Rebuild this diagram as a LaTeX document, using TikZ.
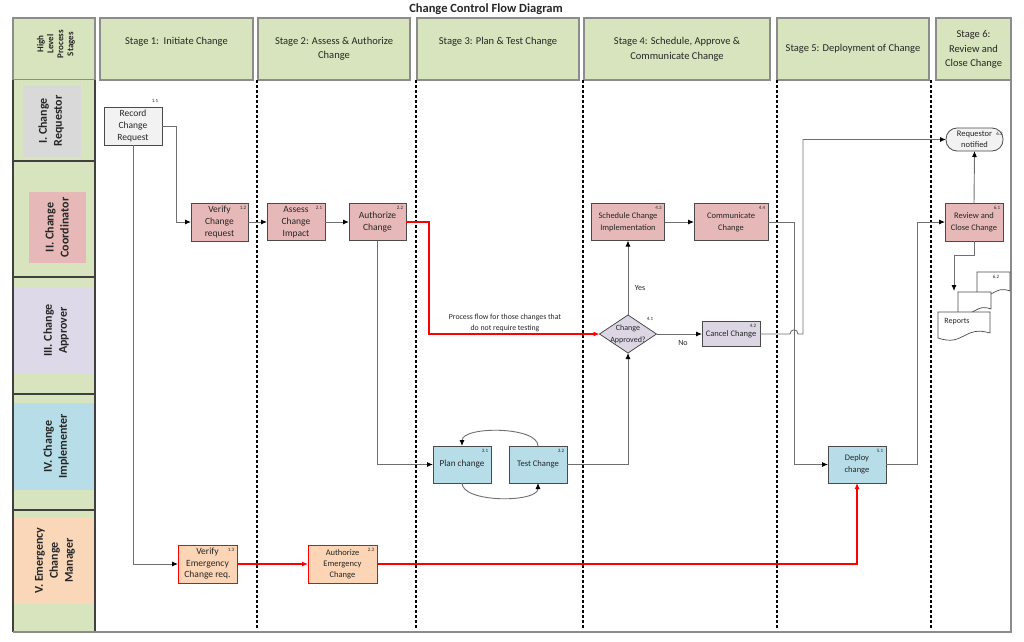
\documentclass[tikz,border=0pt]{standalone}
\usepackage{fontspec}
\setmainfont{Carlito}
\usetikzlibrary{arrows.meta,shapes.geometric}
\definecolor{hdrgreen}{HTML}{D7E4BD}
\definecolor{boxgray}{HTML}{8C8C8C}
\definecolor{nodeborder}{HTML}{4A4A4A}
\definecolor{textgray}{HTML}{262626}
\definecolor{conngray}{HTML}{6F6F6F}
\definecolor{pinkfill}{HTML}{E6B9B8}
\definecolor{bluefill}{HTML}{B7DEE8}
\definecolor{orangefill}{HTML}{FBD5B5}
\definecolor{purplefill}{HTML}{DCD6E4}
\definecolor{lightfill}{HTML}{F2F2F2}
\definecolor{lanegray}{HTML}{D9D9D9}
\definecolor{lanepink}{HTML}{E6B9B8}
\definecolor{lanepurple}{HTML}{DED9E8}
\definecolor{laneblue}{HTML}{B7DEE8}
\definecolor{laneorange}{HTML}{FAD7B9}
\definecolor{sepdark}{HTML}{404040}
\begin{document}
\begin{tikzpicture}[x=1pt,y=-1pt,
  every node/.style={inner sep=0pt, outer sep=0pt, align=center, text=textgray},
  stagebox/.style={draw=boxgray, line width=1.1pt, fill=hdrgreen},
  stagetxt/.style={font=\fontsize{10.5}{14.5}\selectfont},
  proc/.style={draw=nodeborder, line width=0.8pt, minimum width=58pt, minimum height=37pt, font=\fontsize{9.5}{12}\selectfont},
  pinkbox/.style={proc, fill=pinkfill},
  bluebox/.style={proc, fill=bluefill},
  emerg/.style={proc, fill=orangefill, draw=red, line width=1pt},
  conn/.style={draw=conngray, line width=0.9pt},
  arr/.style={conn, -{Latex[length=6pt,width=5pt,color=black]}},
  redarr/.style={draw=red, line width=1.1pt, -{Latex[length=6pt,width=5pt]}},
  num/.style={font=\fontsize{5}{6}\selectfont},
  lanetxt/.style={rotate=90, font=\bfseries\fontsize{12}{15}\selectfont},
  divider/.style={draw=black, line width=2pt, dash pattern=on 3pt off 2pt},
  sepline/.style={draw=sepdark, line width=1.1pt},
  small/.style={font=\fontsize{8}{11}\selectfont},
]
\fill[white] (0,0) rectangle (1024,641);
\useasboundingbox (0,0) rectangle (1024,641);

% title
\node[font=\bfseries\fontsize{12.5}{14}\selectfont] (title) at (486,9) {Change Control Flow Diagram};

% header row
\node[stagebox, minimum width=82pt, minimum height=62pt] (hdr) at (54,49) {};
\node[rotate=90, font=\bfseries\fontsize{9}{10}\selectfont] (hdrtxt) at (56,44) {High\\Level\\Process\\Stages};
\node[stagebox, minimum width=153pt, minimum height=62pt] (s1) at (176.5,49) {};
\node[stagebox, minimum width=152pt, minimum height=62pt] (s2) at (334,49) {};
\node[stagebox, minimum width=162pt, minimum height=62pt] (s3) at (498,49) {};
\node[stagebox, minimum width=186pt, minimum height=62pt] (s4) at (677,49) {};
\node[stagebox, minimum width=152pt, minimum height=62pt] (s5) at (853,49) {};
\node[stagebox, minimum width=75pt, minimum height=62pt] (s6) at (973.5,49) {};
\node[stagetxt] (s1t) at (176.5,42) {Stage 1:\ \ Initiate Change};
\node[stagetxt] (s2t) at (334,49) {Stage 2: Assess \& Authorize\\Change};
\node[stagetxt] (s3t) at (498,42) {Stage 3: Plan \& Test Change};
\node[stagetxt] (s4t) at (677,49.5) {Stage 4: Schedule, Approve \&\\Communicate Change};
\node[stagetxt] (s5t) at (853,49) {Stage 5: Deployment of Change};
\node[stagetxt] (s6t) at (973.5,49.5) {Stage 6:\\Review and\\Close Change};

% lane column
\fill[hdrgreen] (13,80) rectangle (95,632);
\fill[lanegray] (23,85) rectangle (81,157);
\fill[lanepink] (29,192) rectangle (86,263);
\fill[lanepurple] (13,287) rectangle (95,374);
\fill[laneblue] (13,403) rectangle (95,490);
\fill[laneorange] (13,517) rectangle (95,604);
\draw[sepline] (13,161) -- (95,161);
\draw[sepline] (13,277) -- (95,277);
\draw[sepline] (13,394) -- (95,394);
\draw[sepline] (13,510) -- (95,510);
\draw[sepline] (13,80) -- (13,632);
\draw[sepline] (95,80) -- (95,632);
\draw[draw=boxgray, line width=1.1pt] (13,632) -- (1011,632) -- (1011,80);
\node[lanetxt] (l1) at (51,121) {I. Change\\Requestor};
\node[lanetxt] (l2) at (57,227.5) {II. Change\\Coordinator};
\node[lanetxt] (l3) at (56,330.5) {III. Change\\Approver};
\node[lanetxt] (l4) at (56,446.5) {IV. Change\\Implementer};
\node[lanetxt] (l5) at (55,560.5) {V. Emergency\\Change\\Manager};

% stage dividers
\foreach \xx in {257,416,583,777,931} \draw[divider] (\xx,80) -- (\xx,628);

% process nodes
\node[proc, fill=lightfill, minimum height=38pt] (rec) at (133,126) {Record\\Change\\Request};
\node[pinkbox, minimum width=57pt, minimum height=38pt] (ver) at (219.5,222) {Verify\\Change\\request};
\node[pinkbox] (ass) at (296,222) {Assess\\Change\\Impact};
\node[pinkbox, minimum width=57pt] (aut) at (377.5,222) {Authorize\\Change};
\node[pinkbox, minimum width=73pt, font=\fontsize{8.5}{12}\selectfont] (sch) at (628,222) {Schedule Change\\Implementation};
\node[pinkbox, minimum width=74pt, font=\fontsize{8.5}{12}\selectfont] (com) at (731,222) {Communicate\\Change};
\node[diamond, draw=nodeborder, line width=0.8pt, fill=purplefill, minimum width=57pt, minimum height=38pt] (dia) at (628,334) {};
\node[font=\fontsize{8}{12}\selectfont] (diat) at (628,334) {Change\\Approved?};
\node[proc, fill=purplefill, minimum height=25pt, font=\fontsize{8.5}{11}\selectfont] (can) at (731,334) {Cancel Change};
\node[bluebox, font=\fontsize{9.2}{12}\selectfont] (plan) at (462,464.5) {Plan change};
\node[bluebox, font=\fontsize{8.6}{12}\selectfont] (test) at (538,464.5) {Test Change};
\node[bluebox, font=\fontsize{8.5}{12}\selectfont] (dep) at (857,464.5) {Deploy\\change};
\node[pinkbox, minimum height=38pt, font=\fontsize{8.5}{12}\selectfont] (rev) at (974,222) {Review and\\Close Change};
\node[draw=nodeborder, line width=0.8pt, fill=lightfill, rounded corners=11pt, minimum width=57pt, minimum height=23pt, font=\fontsize{8.5}{11}\selectfont] (notif) at (974.5,139.5) {Requestor\\notified};
\node[emerg, minimum width=59pt, minimum height=38pt, font=\fontsize{9.5}{11.5}\selectfont] (vem) at (207.5,564) {Verify\\Emergency\\Change req.};
\node[emerg, minimum width=69pt, minimum height=38pt, font=\fontsize{8.5}{11}\selectfont] (aem) at (342.5,564) {Authorize\\Emergency\\Change};

% reports (multiple documents)
\filldraw[fill=white, draw=nodeborder, line width=0.7pt] (977,272) -- (1010,272) -- (1010,291) .. controls (994,285) and (994,300) .. (977,294) -- cycle;
\filldraw[fill=white, draw=nodeborder, line width=0.7pt] (958,292) -- (991,292) -- (991,309) .. controls (975,303) and (975,318) .. (958,313) -- cycle;
\filldraw[fill=white, draw=nodeborder, line width=0.7pt] (938,312) -- (990,312) -- (990,333) .. controls (964,325) and (964,347) .. (938,338) -- cycle;
\node[font=\fontsize{8}{10}\selectfont] (rep) at (957,322) {Reports};
\coordinate (repin) at (954,291);

% numbers
\node[num] (n11) at (155,101) {1.1};
\node[num] at ([shift={(-5,4.5)}]ver.north east) {1.2};
\node[num] at ([shift={(-6,4.5)}]ass.north east) {2.1};
\node[num] at ([shift={(-6,4.5)}]aut.north east) {2.2};
\node[num] at ([shift={(-6,4.5)}]sch.north east) {4.3};
\node[num] at ([shift={(-6,4.5)}]com.north east) {4.4};
\node[num] (n41) at (650,319) {4.1};
\node[num] at ([shift={(-7,4.5)}]can.north east) {4.2};
\node[num] at ([shift={(-6,4.5)}]plan.north east) {3.1};
\node[num] at ([shift={(-6,4.5)}]test.north east) {3.2};
\node[num] at ([shift={(-6,4.5)}]dep.north east) {5.1};
\node[num] at ([shift={(-6,5)}]rev.north east) {6.1};
\node[num] at ([shift={(-3.5,6)}]notif.north east) {6.3};
\node[num] (n62) at (996,277) {6.2};
\node[num] at ([shift={(-6,4.5)}]vem.north east) {1.3};
\node[num] at ([shift={(-6,4.5)}]aem.north east) {2.3};

% connectors
\draw[arr] (rec.east) -- ++(14,0) |- (ver.west);
\draw[arr] (ver.east) -- (ass.west);
\draw[arr] (ass.east) -- (aut.west);
\draw[redarr] (aut.east) -- ++(23,0) |- (dia.west);
\draw[arr] (aut.south) |- (plan.west);
\draw[arr] (test.north) .. controls +(0,-20) and +(0,-20) .. (plan.north);
\draw[arr] (plan.south) .. controls +(0,20) and +(0,20) .. (test.south);
\draw[arr] (test.east) -| (dia.south);
\draw[arr] (dia.north) -- (sch.south);
\draw[arr] (dia.east) -- (can.west);
\draw[arr] (sch.east) -- (com.west);
\draw[arr] (com.east) -- ++(26,0) |- (dep.west);
\draw[arr] (can.east) -- (790,334) .. controls (790,328.5) and (798,328.5) .. (798,334) -- (803,334) |- (notif.west);
\draw[arr] (dep.east) -- ++(31,0) |- (rev.west);
\draw[arr] (rev.north) -- (notif.south);
\draw[arr] (rev.south) -- ++(0,14) -| (repin);
\draw[arr] (rec.south) |- (vem.west);
\draw[redarr] (vem.east) -- (aem.west);
\draw[redarr] (aem.east) -| (dep.south);

% connector labels
\node[font=\fontsize{7.8}{11}\selectfont] (plabel) at (505,322.5) {Process flow for those changes that\\do not require testing};
\node[small] (yes) at (640,288) {Yes};
\node[small] (no) at (683,343) {No};
\end{tikzpicture}
\end{document}
